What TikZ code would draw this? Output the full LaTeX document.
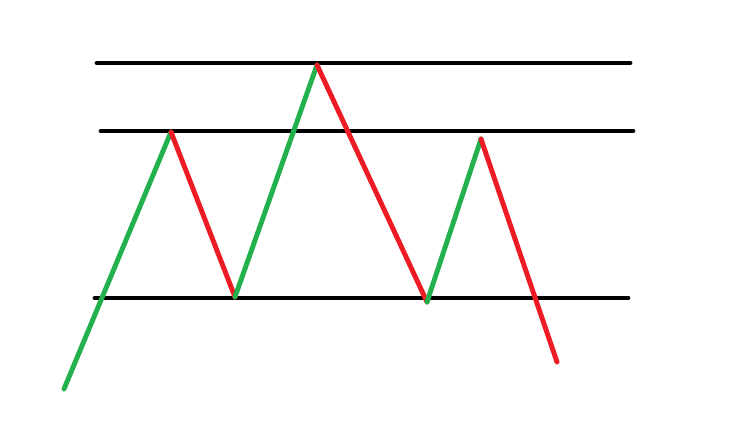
\documentclass[tikz,border=0pt]{standalone}
\usepackage{tikz}

\definecolor{upgreen}{RGB}{34,177,76}
\definecolor{downred}{RGB}{237,28,36}

\begin{document}
\begin{tikzpicture}[line cap=round,
    level/.style={line width=1.4pt, black},
    upleg/.style={line width=1.4pt, upgreen},
    downleg/.style={line width=1.4pt, downred}]
    \useasboundingbox (0,0) rectangle (7.33,4.33);

    % horizontal levels
    \coordinate (topL) at (0.97,3.70);
    \coordinate (topR) at (6.30,3.70);
    \coordinate (midL) at (1.01,3.02);
    \coordinate (midR) at (6.33,3.02);
    \coordinate (lowL) at (0.95,1.35);
    \coordinate (lowR) at (6.28,1.35);
    \draw[level] (topL) -- (topR);
    \draw[level] (midL) -- (midR);
    \draw[level] (lowL) -- (lowR);

    % turning points of the price path
    \foreach \n/\x/\y in {p0/0.64/0.44, p1/1.71/3.01, p2/2.35/1.36, p3/3.17/3.68,
                          p4/4.27/1.31, p5/4.81/2.94, p6/5.57/0.71} {
        \coordinate (\n) at (\x,\y);
    }

    \draw[upleg] (p0) -- (p1);
    \draw[downleg] (p1) -- (p2);
    \draw[upleg] (p2) -- (p3);
    \draw[downleg] (p3) -- (p4);
    \draw[upleg] (p4) -- (p5);
    \draw[downleg] (p5) -- (p6);
\end{tikzpicture}
\end{document}
